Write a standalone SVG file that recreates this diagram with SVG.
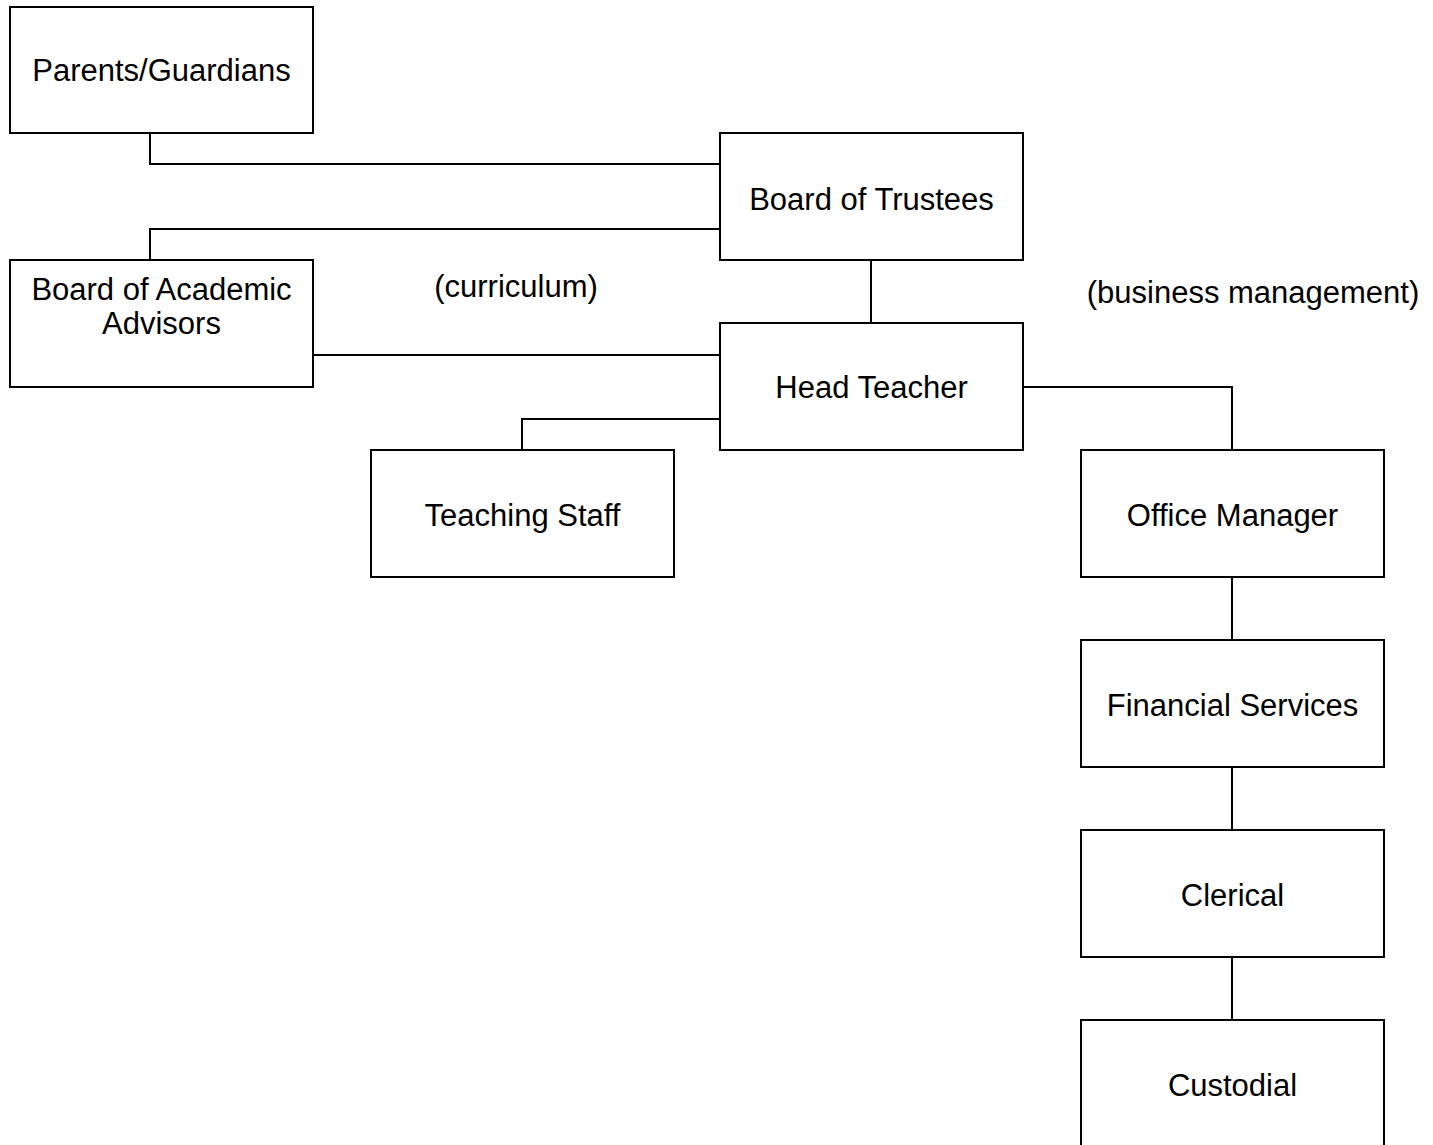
<svg xmlns="http://www.w3.org/2000/svg" width="1433" height="1145" viewBox="0 0 1433 1145">
<style>
.box{fill:#fff;stroke:#000;stroke-width:2}
.t{font-family:"Liberation Sans",Arial,sans-serif;font-size:31px;fill:#000;text-anchor:middle}
.c{fill:none;stroke:#000;stroke-width:2}
</style>
<rect width="1433" height="1145" fill="#fff"/>
<g id="connectors">
<polyline class="c" points="150,133 150,164 720,164"/>
<polyline class="c" points="720,229 150,229 150,260"/>
<line class="c" x1="871" y1="260" x2="871" y2="323"/>
<line class="c" x1="313" y1="355" x2="720" y2="355"/>
<polyline class="c" points="720,419 522,419 522,450"/>
<polyline class="c" points="1023,387 1232,387 1232,450"/>
<line class="c" x1="1232" y1="577" x2="1232" y2="640"/>
<line class="c" x1="1232" y1="767" x2="1232" y2="830"/>
<line class="c" x1="1232" y1="957" x2="1232" y2="1020"/>
</g>
<g id="parents"><rect class="box" x="10" y="7" width="303" height="126"/><text class="t" x="161.5" y="81">Parents/Guardians</text></g>
<g id="trustees"><rect class="box" x="720" y="133" width="303" height="127"/><text class="t" x="871.5" y="210">Board of Trustees</text></g>
<g id="academic"><rect class="box" x="10" y="260" width="303" height="127"/><text class="t" x="161.5" y="300">Board of Academic</text><text class="t" x="161.5" y="334">Advisors</text></g>
<g id="head"><rect class="box" x="720" y="323" width="303" height="127"/><text class="t" x="871.5" y="398">Head Teacher</text></g>
<g id="teaching"><rect class="box" x="371" y="450" width="303" height="127"/><text class="t" x="522.5" y="526">Teaching Staff</text></g>
<g id="office"><rect class="box" x="1081" y="450" width="303" height="127"/><text class="t" x="1232.5" y="526">Office Manager</text></g>
<g id="financial"><rect class="box" x="1081" y="640" width="303" height="127"/><text class="t" x="1232.5" y="716">Financial Services</text></g>
<g id="clerical"><rect class="box" x="1081" y="830" width="303" height="127"/><text class="t" x="1232.5" y="906">Clerical</text></g>
<g id="custodial"><rect class="box" x="1081" y="1020" width="303" height="127"/><text class="t" x="1232.5" y="1096">Custodial</text></g>
<g id="labels">
<text class="t" x="516" y="297">(curriculum)</text>
<text class="t" x="1253" y="303">(business management)</text>
</g>
</svg>
